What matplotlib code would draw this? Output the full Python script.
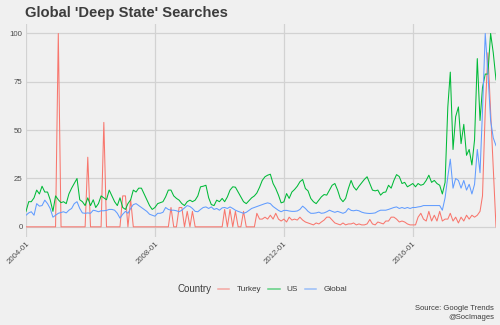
import matplotlib
matplotlib.use("Agg")
import matplotlib.pyplot as plt
from matplotlib.lines import Line2D
import pandas as pd

plt.rcParams['font.family'] = ['Liberation Sans', 'DejaVu Sans']

start_month = "2004-01-01"
n_months = 176

turkey = [0]*176
_tk_nonzero = {12: 100, 23: 36, 29: 54, 36: 16, 37: 16, 39: 14,
               54: 10, 57: 10, 58: 10, 60: 8, 62: 8,
               74: 9, 76: 9, 78: 8, 81: 8,
               86: 7, 87: 4, 88: 4, 89: 5, 90: 4, 91: 6, 92: 4, 93: 7, 94: 4, 95: 3,
               96: 4, 97: 2.5, 98: 5, 99: 3.5, 100: 4, 101: 3.5, 102: 5, 103: 3.5, 104: 2.5,
               105: 2, 106: 1.5, 107: 1, 108: 2, 109: 1.5, 110: 2.5, 111: 3.5, 112: 5, 113: 5,
               114: 3.5, 115: 2, 116: 1.5, 117: 1, 118: 2, 119: 1, 120: 1.5, 121: 1.5, 122: 2,
               123: 1, 124: 1.5, 125: 1, 126: 1, 127: 1.5, 128: 3.8, 129: 1.5, 130: 1, 131: 2.5,
               132: 2, 133: 1.5, 134: 3, 135: 3, 136: 5, 137: 5, 138: 4, 139: 2.5, 140: 3,
               141: 2.5, 142: 1.5, 143: 1, 144: 1, 145: 1, 146: 5, 147: 7, 148: 4, 149: 3,
               150: 8, 151: 3, 152: 6, 153: 3, 154: 8, 155: 3, 156: 4, 157: 4, 158: 7, 159: 3,
               160: 5, 161: 2, 162: 5, 163: 3, 164: 6, 165: 4, 166: 6, 167: 5, 168: 6, 169: 8,
               170: 16, 171: 60, 172: 90, 173: 60, 174: 30, 175: 0}
for k, v in _tk_nonzero.items():
    turkey[k] = v

us = [8, 13, 13, 15, 19, 17, 21, 18, 18, 14,
      8, 16, 14, 12.5, 13, 12, 17, 20, 22.5, 25,
      14, 13, 11, 15, 11, 14, 10, 12, 16, 15,
      14, 19, 16, 13, 11, 15, 10, 9, 12, 14,
      19, 18, 20, 20, 17, 14, 11, 9, 10, 12,
      12.5, 13, 15.5, 19, 19, 16, 14.7, 13.8, 12, 11,
      13, 13.8, 13, 13.8, 16, 20.7, 21, 21.5, 15, 11.5,
      11, 13.8, 13, 14.7, 13, 15.5, 19, 20.7, 20.5, 18,
      15.5, 13, 12, 13.5, 15, 16, 17.5, 20.5, 24, 25.9,
      26.7, 27.2, 22.4, 19.8, 16.4, 12.4, 12.9, 17.2, 14.7, 18,
      19.3, 21, 23.3, 24.5, 19.8, 18.6, 14.7, 13, 12, 13.8,
      15.5, 16.7, 16.4, 19, 21.5, 22.4, 19, 14.7, 13, 14.7,
      19.8, 24, 20.7, 19, 21, 22.8, 24.5, 25.9, 22.4, 19,
      18.6, 19, 16.4, 17.8, 18, 21.5, 20, 24, 27, 26,
      22.4, 23, 20.7, 21.5, 22.4, 20.7, 22.4, 21.5, 22, 24,
      26.7, 23, 24, 22.4, 21.5, 17, 23, 62, 80, 40,
      57, 62, 43, 53, 37, 40, 32, 45, 87, 55,
      72, 79, 79, 100, 90, 76]

global_ = [6, 7.2, 7.8, 6, 12, 10.7, 11, 13.8, 12, 9.5,
           5, 6, 7, 7.4, 7.8, 7.2, 8.6, 9.5, 12, 13,
           9.5, 7.2, 7, 7.2, 7, 8.6, 8.3, 7.8, 8.3, 8.3,
           8.5, 9, 9, 8.6, 7, 4.5, 6.5, 8, 7, 9.5,
           11.5, 12, 11, 10, 9, 8, 6.5, 6, 5.5, 7,
           7, 7.5, 10, 9, 8.6, 8.6, 8.3, 7.8, 8.6, 9.8,
           11, 10.5, 9.5, 8, 7.8, 9, 10, 10.3, 9.5, 10.3,
           9, 9.5, 8.6, 9.8, 10, 9.5, 10.3, 9.5, 8.6, 8,
           7.5, 7, 7.5, 8.5, 9.5, 10, 10.5, 11, 11.5, 12,
           12.4, 12, 10.5, 9.5, 8.5, 7.8, 8.5, 8.5, 8.2, 8,
           8, 8.2, 9, 10.7, 9.5, 8, 7, 7, 7.2, 7.6,
           7, 7.2, 7.8, 8.6, 8, 7.5, 8, 7.5, 7, 7.6,
           9.5, 8.5, 8.3, 8.6, 8.3, 7.6, 7.2, 7, 6.9, 7,
           7.2, 8, 8.6, 8.6, 8.6, 9, 9.5, 10, 10.3, 9.5,
           10, 9.5, 10, 9.5, 10, 10, 10.3, 10.5, 11, 11,
           11, 11, 11, 11, 11, 8.6, 15, 26, 35, 20,
           25, 24, 20, 24, 19, 22, 17, 22, 40, 28,
           60, 100, 80, 55, 46, 42]

series_names = ["Turkey", "US", "Global"]
series_colors = ["#F8766D", "#00BA38", "#619CFF"]

dates = pd.date_range(start_month, periods=n_months, freq="MS")

W, H = 500, 325
fig = plt.figure(figsize=(W/100, H/100), dpi=100, facecolor="#F0F0F0")
ax = fig.add_axes([26/W, 1-236.5/H, (496-26)/W, (236.5-23.8)/H])
ax.set_facecolor("#F0F0F0")

for name, vals, col in zip(series_names, [turkey, us, global_], series_colors):
    ax.plot(dates, vals, color=col, lw=0.75, solid_joinstyle="round", zorder=3)

ax.set_xlim(dates[0], dates[-1])
ax.set_ylim(-5, 105)
ax.set_yticks([0, 25, 50, 75, 100])
ax.set_yticklabels(["0", "25", "50", "75", "100"])
xt = pd.to_datetime(["2004-01-01", "2008-01-01", "2012-01-01", "2016-01-01"])
ax.set_xticks(xt)
ax.set_xticklabels(["2004-01", "2008-01", "2012-01", "2016-01"], rotation=45,
                   ha="right", va="top", rotation_mode="anchor")
ax.grid(True, color="#D2D2D2", lw=0.9, zorder=0)
ax.tick_params(length=0, labelsize=5.7, labelcolor="#4D4D4D", pad=2.5)
for s in ax.spines.values():
    s.set_visible(False)

fig.text(25/W, 1-13.5/H, "Global 'Deep State' Searches", fontsize=10.6,
         fontweight="bold", color="#3C3C3C", ha="left", va="center")

fig.text(177/W, 1-289.5/H, "Country", fontsize=7, color="#3C3C3C",
         ha="left", va="center")
handles = [Line2D([], [], color=c, lw=1.1, alpha=0.6) for c in series_colors]
leg = fig.legend(handles, series_names, ncol=3, loc="center left",
                 bbox_to_anchor=(218/W, 1-289.5/H), frameon=False,
                 fontsize=5.9, handlelength=1.4, handletextpad=0.85,
                 columnspacing=0.85, borderaxespad=0, borderpad=0)
for t in leg.get_texts():
    t.set_color("#3C3C3C")

fig.text(494/W, 1-309/H, "Source: Google Trends", fontsize=5.5, color="#3C3C3C",
         ha="right", va="center")
fig.text(494/W, 1-317.5/H, "@SocImages", fontsize=5.5, color="#3C3C3C",
         ha="right", va="center")

fig.savefig("out.png", dpi=100, facecolor="#F0F0F0")
